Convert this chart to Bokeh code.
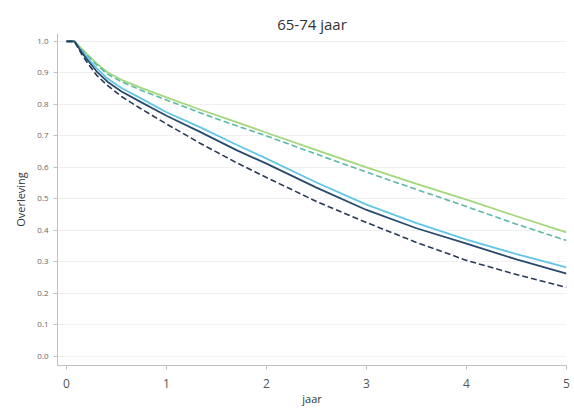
from bokeh.plotting import figure
from bokeh.embed import file_html
from bokeh.resources import INLINE
from bokeh.models import FixedTicker, Range1d, NumeralTickFormatter

# time in years
t = [0.0, 0.08, 0.15, 0.22, 0.30, 0.41, 0.55, 0.74, 1.0, 1.34, 1.7, 2.0, 2.5, 3.0, 3.5, 4.0, 4.5, 5.0]

green_solid = [1.0, 1.0, 0.977, 0.955, 0.930, 0.902, 0.878, 0.853, 0.822, 0.783, 0.744, 0.710, 0.655, 0.600, 0.548, 0.498, 0.445, 0.394]
green_dash  = [1.0, 1.0, 0.975, 0.952, 0.926, 0.896, 0.872, 0.846, 0.814, 0.773, 0.732, 0.700, 0.642, 0.585, 0.530, 0.476, 0.420, 0.368]
cyan_solid  = [1.0, 1.0, 0.970, 0.945, 0.915, 0.882, 0.852, 0.820, 0.775, 0.727, 0.672, 0.628, 0.552, 0.482, 0.423, 0.371, 0.325, 0.283]
navy_solid  = [1.0, 1.0, 0.966, 0.937, 0.905, 0.872, 0.841, 0.808, 0.764, 0.712, 0.655, 0.612, 0.536, 0.465, 0.407, 0.358, 0.308, 0.263]
navy_dash   = [1.0, 1.0, 0.960, 0.927, 0.893, 0.860, 0.825, 0.787, 0.738, 0.676, 0.615, 0.568, 0.492, 0.425, 0.362, 0.305, 0.260, 0.219]

y_ticks = [0.0, 0.1, 0.2, 0.3, 0.4, 0.5, 0.6, 0.7, 0.8, 0.9, 1.0]
x_ticks = [0, 1, 2, 3, 4, 5]

p = figure(width=574, height=408, output_backend="svg", toolbar_location=None,
           x_range=Range1d(-0.09, 5.0), y_range=Range1d(-0.0286, 1.025),
           min_border_left=57, min_border_right=8, min_border_top=33, min_border_bottom=43)
p.title.text = "65-74 jaar"
p.title.align = "center"
p.title.offset = 7
p.title.text_font = "Open Sans"
p.title.text_font_size = "15px"
p.title.text_font_style = "normal"
p.title.text_color = "#333333"
p.title.standoff = 0
p.outline_line_color = None

p.line(t, green_solid, line_color="#a2d87a", line_width=1.8)
p.line(t, green_dash, line_color="#5cb8a8", line_width=1.6, line_dash="6 3")
p.line(t, cyan_solid, line_color="#62c6e6", line_width=1.8)
p.line(t, navy_solid, line_color="#2a4a6c", line_width=1.8)
p.line(t, navy_dash, line_color="#2a3a56", line_width=1.6, line_dash="6 3")

p.xgrid.grid_line_color = None
p.ygrid.grid_line_color = "#f0f0f0"
p.ygrid.ticker = FixedTicker(ticks=y_ticks)

p.yaxis.ticker = FixedTicker(ticks=y_ticks)
p.yaxis.formatter = NumeralTickFormatter(format="0.0")
p.yaxis.major_label_text_font_size = "8px"
p.yaxis.major_label_text_color = "#666666"
p.yaxis.major_label_text_font = "Open Sans"
p.yaxis.axis_label = "Overleving"
p.yaxis.axis_label_text_font = "Open Sans"
p.yaxis.axis_label_text_font_size = "11px"
p.yaxis.axis_label_text_font_style = "normal"
p.yaxis.axis_label_text_color = "#333333"
p.yaxis.axis_label_standoff = 6
p.yaxis.major_label_standoff = 5
p.yaxis.axis_line_color = "#c0c0c0"
p.yaxis.major_tick_line_color = "#c0c0c0"
p.yaxis.major_tick_out = 4
p.yaxis.major_tick_in = 0
p.yaxis.minor_tick_line_color = None

p.xaxis.ticker = FixedTicker(ticks=x_ticks)
p.xaxis.major_label_text_font_size = "12px"
p.xaxis.major_label_text_color = "#555555"
p.xaxis.major_label_text_font = "Open Sans"
p.xaxis.axis_label = "jaar"
p.xaxis.axis_label_text_font = "Open Sans"
p.xaxis.axis_label_text_font_size = "11px"
p.xaxis.axis_label_text_font_style = "normal"
p.xaxis.axis_label_text_color = "#333333"
p.xaxis.axis_label_standoff = 0
p.xaxis.major_label_standoff = 9
p.xaxis.axis_line_color = "#c0c0c0"
p.xaxis.major_tick_line_color = "#c0c0c0"
p.xaxis.major_tick_out = 4
p.xaxis.major_tick_in = 0
p.xaxis.minor_tick_line_color = None

open("out.html", "w").write(file_html(p, INLINE))
